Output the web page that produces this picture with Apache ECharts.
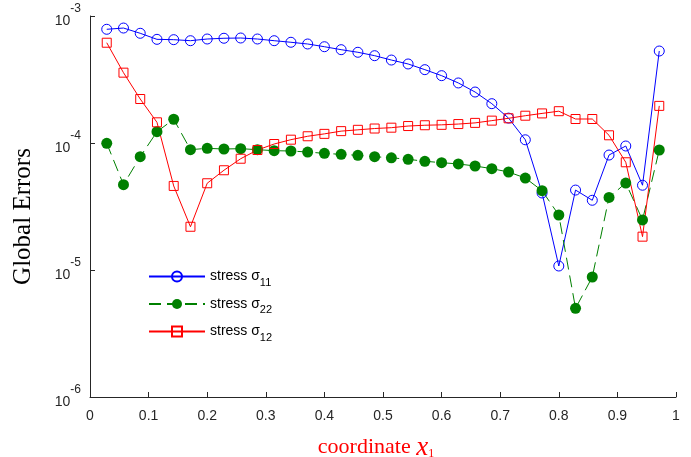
<!DOCTYPE html>
<html>
<head>
<meta charset="utf-8">
<script src="https://cdn.jsdelivr.net/npm/echarts@6/dist/echarts.min.js"></script>
<style>
html,body{margin:0;padding:0;background:#fff;}
#c{width:691px;height:457px;}
</style>
</head>
<body>
<div id="c"></div>
<script>
var xCoords = [0.02857, 0.05714, 0.08571, 0.11429, 0.14286, 0.17143, 0.2, 0.22857, 0.25714, 0.28571,
  0.31429, 0.34286, 0.37143, 0.4, 0.42857, 0.45714, 0.48571, 0.51429, 0.54286, 0.57143,
  0.6, 0.62857, 0.65714, 0.68571, 0.71429, 0.74286, 0.77143, 0.8, 0.82857, 0.85714,
  0.88571, 0.91429, 0.94286, 0.97143];

var sigma11 = [7.86e-4, 8.04e-4, 7.31e-4, 6.55e-4, 6.51e-4, 6.39e-4, 6.59e-4, 6.68e-4, 6.71e-4, 6.59e-4,
  6.39e-4, 6.21e-4, 6.02e-4, 5.73e-4, 5.43e-4, 5.18e-4, 4.87e-4, 4.50e-4, 4.19e-4, 3.78e-4,
  3.39e-4, 2.97e-4, 2.52e-4, 2.04e-4, 1.57e-4, 1.06e-4, 4.04e-5, 1.075e-5, 4.26e-5, 3.54e-5,
  8.04e-5, 9.47e-5, 4.65e-5, 5.30e-4];

var sigma22 = [9.95e-5, 4.70e-5, 7.80e-5, 1.227e-4, 1.538e-4, 8.86e-5, 9.08e-5, 8.97e-5, 9.02e-5, 8.86e-5,
  8.70e-5, 8.65e-5, 8.49e-5, 8.29e-5, 8.14e-5, 8.00e-5, 7.80e-5, 7.65e-5, 7.44e-5, 7.18e-5,
  7.00e-5, 6.84e-5, 6.59e-5, 6.28e-5, 5.91e-5, 5.30e-5, 4.21e-5, 2.71e-5, 4.99e-6, 8.81e-6,
  3.73e-5, 4.84e-5, 2.48e-5, 8.81e-5];

var sigma12 = [6.16e-4, 3.58e-4, 2.22e-4, 1.455e-4, 4.59e-5, 2.19e-5, 4.82e-5, 6.10e-5, 7.52e-5, 8.81e-5,
  9.82e-5, 1.062e-4, 1.13e-4, 1.18e-4, 1.24e-4, 1.27e-4, 1.30e-4, 1.32e-4, 1.36e-4, 1.38e-4,
  1.39e-4, 1.41e-4, 1.44e-4, 1.50e-4, 1.565e-4, 1.64e-4, 1.71e-4, 1.78e-4, 1.545e-4, 1.545e-4,
  1.15e-4, 7.05e-5, 1.83e-5, 1.96e-4];

var seriesNames = ['stress σ11', 'stress σ22', 'stress σ12'];
var legendLabels = [['stress σ', '11'], ['stress σ', '22'], ['stress σ', '12']];
var xTicks = ['0', '0.1', '0.2', '0.3', '0.4', '0.5', '0.6', '0.7', '0.8', '0.9', '1'];
var yTickExps = [-6, -5, -4, -3];
var xTitle = ['coordinate ', 'x', '1'];
var yTitle = 'Global Errors';

function pairs(ys) { return ys.map(function (y, i) { return [xCoords[i], y]; }); }

var axisColor = '#262626';
var legendRich = {
  a: { fontFamily: 'Liberation Sans, Arial', fontSize: 14, color: '#000' },
  b: { fontFamily: 'Liberation Sans, Arial', fontSize: 11, color: '#000', padding: [12, 0, 0, 0] }
};
function legendFmt(name) {
  var i = seriesNames.indexOf(name);
  return '{a|' + legendLabels[i][0] + '}{b|' + legendLabels[i][1] + '}';
}
function mkLegend(name, top) {
  return {
    data: [name], left: 148, top: top, padding: 0, itemWidth: 56, itemHeight: 12.5, itemGap: 0,
    formatter: legendFmt, selectedMode: false,
    textStyle: { rich: legendRich }
  };
}

var chart = echarts.init(document.getElementById('c'), null, { renderer: 'canvas' });
chart.setOption({
  animation: false,
  backgroundColor: '#fff',
  grid: { left: 90, right: 15, top: 16, bottom: 60, containLabel: false, outerBoundsMode: 'none' },
  legend: [mkLegend(seriesNames[0], 269.5), mkLegend(seriesNames[1], 297), mkLegend(seriesNames[2], 324.5)],
  xAxis: {
    type: 'value', min: 0, max: 1, interval: 0.1,
    name: '{a|' + xTitle[0] + '}{b|' + xTitle[1] + '}{c|' + xTitle[2] + '}',
    nameLocation: 'middle', nameGap: 37,
    nameTextStyle: {
      padding: [0, 14, 0, 0],
      rich: {
        a: { fontFamily: 'Liberation Serif, Times New Roman', fontSize: 22, color: '#ff0000' },
        b: { fontFamily: 'Liberation Serif, Times New Roman', fontSize: 27, fontStyle: 'italic', color: '#ff0000' },
        c: { fontFamily: 'Liberation Serif, Times New Roman', fontSize: 12, color: '#ff0000', padding: [12, 0, 0, 0] }
      }
    },
    axisLine: { show: true, lineStyle: { color: axisColor, width: 1 } },
    axisTick: { show: true, inside: true, length: 5, lineStyle: { color: axisColor } },
    splitLine: { show: false },
    axisLabel: {
      margin: 12, color: axisColor, fontFamily: 'Liberation Sans, Arial', fontSize: 14,
      formatter: function (v) { return xTicks[Math.round(v * 10)]; }
    }
  },
  yAxis: {
    type: 'log', logBase: 10, min: 1e-6, max: 1e-3, splitNumber: 3,
    name: yTitle, nameLocation: 'middle', nameGap: 54,
    nameTextStyle: { fontFamily: 'Liberation Serif, Times New Roman', fontSize: 25, color: '#000', padding: [0, 20, 0, 0] },
    axisLine: { show: true, lineStyle: { color: axisColor, width: 1 } },
    axisTick: { show: true, inside: true, length: 5, lineStyle: { color: axisColor } },
    minorTick: { show: false },
    splitLine: { show: false },
    axisLabel: {
      margin: 9, color: axisColor,
      formatter: function (v) {
        var e = Math.round(Math.log10(v));
        if (yTickExps.indexOf(e) < 0) return '';
        return '{b|10}{s|' + e + '}';
      },
      rich: {
        b: { fontFamily: 'Liberation Sans, Arial', fontSize: 14, color: axisColor, padding: [10, 0, 0, 0] },
        s: { fontFamily: 'Liberation Sans, Arial', fontSize: 12, color: axisColor, padding: [0, 0, 14, 0] }
      }
    }
  },
  series: [
    {
      name: seriesNames[0], type: 'line', data: pairs(sigma11),
      symbol: 'circle', symbolSize: 10,
      lineStyle: { color: '#0000ff', width: 1 },
      itemStyle: { color: 'rgba(0,0,0,0)', borderColor: '#0000ff', borderWidth: 1 },
      emphasis: { disabled: true }
    },
    {
      name: seriesNames[1], type: 'line', data: pairs(sigma22),
      symbol: 'circle', symbolSize: 11,
      lineStyle: { color: '#008000', width: 1, type: [12, 6] },
      itemStyle: { color: '#008000', borderColor: '#008000', borderWidth: 0 },
      emphasis: { disabled: true }
    },
    {
      name: seriesNames[2], type: 'line', data: pairs(sigma12),
      symbol: 'rect', symbolSize: 9,
      lineStyle: { color: '#ff0000', width: 1 },
      itemStyle: { color: 'rgba(0,0,0,0)', borderColor: '#ff0000', borderWidth: 1 },
      emphasis: { disabled: true }
    }
  ]
});
</script>
</body>
</html>
